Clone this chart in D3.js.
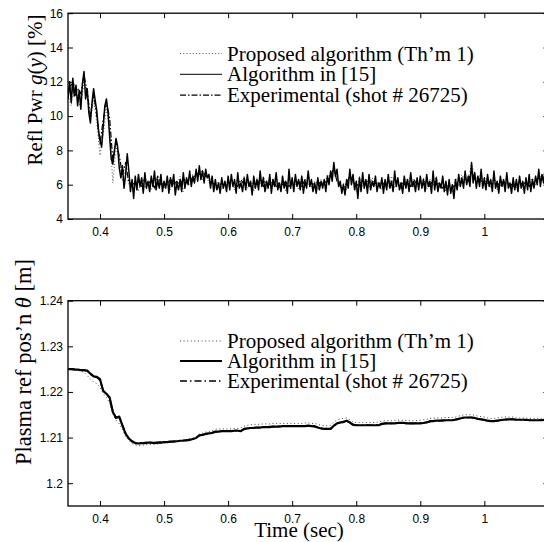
<!DOCTYPE html>
<html>
<head>
<meta charset="utf-8">
<script src="https://cdn.jsdelivr.net/npm/d3@7"></script>
<style>
  body { margin: 0; background: #fff; }
  svg { display: block; }
  .tick text { font-family: "Liberation Sans", Arial, sans-serif; font-size: 12px; fill: #000; }
  .lbl { font-family: "Liberation Serif", "Times New Roman", serif; font-size: 21px; fill: #000; }
</style>
</head>
<body>
<svg id="chart" width="544" height="542"></svg>
<script>
// x ticks shared by both panels
const timeTicks = [0.4, 0.5, 0.6, 0.7, 0.8, 0.9, 1.0];
const pwrTicks = [4, 6, 8, 10, 12, 14, 16];
const posTicks = [1.2, 1.21, 1.22, 1.23, 1.24];
const legendNames = ["Proposed algorithm (Th\u2019m 1)", "Algorithm in [15]", "Experimental (shot # 26725)"];

// reflected power, algorithm in [15], sampled every 2.5 ms from 0.35 s
const pwrAlgo15 = [
  11.0, 12.0, 10.8, 12.2, 11.2, 11.8, 10.6, 11.5, 10.4, 11.9, 12.6, 11.0, 11.6, 10.2, 9.6, 10.8, 11.6, 10.9, 10.3, 9.2,
  8.6, 8.2, 9.4, 10.6, 11.0, 10.2, 8.8, 7.5, 7.2, 8.0, 8.7, 8.2, 7.0, 6.4, 7.1, 5.8, 6.6, 7.8, 6.8, 5.6,
  6.3, 5.2, 6.5, 5.7, 6.6, 5.9, 6.4, 5.5, 6.7, 5.8, 6.2, 5.6, 6.5, 5.9, 6.8, 5.7, 6.3, 5.8, 6.6, 5.6,
  6.2, 5.8, 6.5, 5.5, 6.4, 5.9, 6.6, 5.4, 6.1, 5.7, 6.3, 5.6, 6.7, 5.8, 6.4, 6.0, 6.8, 5.9, 6.5, 6.1,
  6.9, 6.2, 7.1, 6.3, 6.8, 6.1, 6.9, 6.4, 6.6, 5.8, 6.5, 5.6, 6.3, 5.7, 6.1, 5.5, 6.4, 5.8, 6.2, 5.6,
  6.5, 5.7, 6.6, 5.9, 6.3, 5.5, 6.7, 5.8, 6.1, 5.6, 6.4, 5.7, 6.6, 5.9, 6.2, 5.4, 6.5, 5.8, 6.3, 5.7,
  6.8, 5.9, 6.4, 5.6, 6.2, 5.8, 6.6, 5.5, 6.3, 5.9, 6.7, 5.7, 6.1, 5.6, 6.5, 5.8, 6.2, 5.5, 6.9, 5.8,
  6.4, 5.6, 6.6, 5.9, 6.3, 5.7, 6.5, 5.5, 6.2, 5.8, 6.8, 5.9, 6.3, 5.6, 6.1, 5.5, 6.4, 5.7, 6.2, 5.8,
  6.3, 5.6, 6.5, 6.0, 6.8, 6.2, 7.3, 6.5, 6.9, 5.9, 6.2, 5.5, 6.0, 5.4, 6.3, 5.8, 6.9, 6.0, 6.6, 5.7,
  6.2, 5.2, 6.4, 5.6, 6.7, 5.8, 6.3, 5.5, 6.6, 5.7, 6.2, 5.9, 6.5, 5.6, 6.1, 5.8, 6.4, 5.5, 6.3, 5.7,
  6.6, 5.8, 6.2, 5.6, 6.8, 5.9, 6.4, 5.7, 6.1, 5.5, 6.5, 5.8, 6.3, 5.6, 6.7, 5.9, 6.2, 5.6, 6.4, 5.7,
  6.5, 5.8, 6.3, 5.6, 6.6, 5.9, 6.2, 5.5, 6.8, 5.7, 6.4, 5.6, 6.1, 5.8, 6.5, 5.6, 6.2, 5.4, 6.3, 5.5,
  6.0, 5.2, 6.3, 5.7, 6.6, 5.9, 6.4, 5.8, 6.8, 6.0, 6.5, 5.9, 7.3, 6.1, 6.7, 5.8, 6.5, 5.9, 6.9, 5.8,
  6.4, 5.7, 6.6, 5.9, 6.3, 5.6, 6.8, 5.8, 6.2, 5.5, 6.5, 5.9, 6.3, 5.6, 6.7, 5.8, 6.1, 5.5, 6.4, 5.7,
  6.3, 5.6, 6.5, 5.8, 6.2, 5.5, 6.4, 5.7, 6.6, 5.6, 6.3, 5.8, 6.5, 6.0, 6.9, 5.9, 6.6, 6.1, 7.0, 6.2,
  6.4
];
// reflected power, proposed and experimental, every 5 ms from 0.35 s
const pwrProposed = [
  11.2, 10.6, 11.9, 11.0, 10.5, 12.0, 11.2, 9.8, 11.0, 9.6,
  7.7, 8.9, 10.4, 9.2, 6.1, 8.2, 7.6, 6.2, 7.0, 6.0,
  5.9, 6.3, 5.6, 6.4, 5.8, 6.1, 5.7, 6.5, 5.9, 6.2,
  5.8, 6.4, 5.7, 6.2, 5.9, 6.5, 5.6, 6.3, 6.0, 6.6,
  6.5, 6.9, 6.3, 6.7, 6.1, 6.3, 5.8, 6.2, 5.7, 6.1,
  5.9, 6.4, 5.7, 6.3, 6.0, 6.5, 5.8, 6.2, 5.6, 6.4,
  6.0, 6.5, 5.7, 6.3, 5.9, 6.6, 5.8, 6.2, 5.6, 6.5,
  5.9, 6.3, 5.7, 6.4, 6.0, 6.6, 5.8, 6.2, 5.7, 6.3,
  5.9, 6.6, 6.4, 7.1, 6.3, 5.8, 6.1, 5.7, 6.7, 6.1,
  5.6, 6.5, 5.9, 6.3, 5.8, 6.4, 5.9, 6.2, 5.7, 6.3,
  5.9, 6.5, 5.8, 6.3, 5.7, 6.4, 6.0, 6.6, 5.8, 6.2,
  6.0, 6.4, 5.7, 6.3, 5.9, 6.5, 5.8, 6.2, 5.6, 6.1,
  5.6, 6.4, 5.9, 6.6, 6.1, 6.4, 7.2, 6.6, 6.2, 6.7,
  5.9, 6.5, 5.8, 6.6, 5.7, 6.4, 5.9, 6.5, 5.8, 6.2,
  5.8, 6.4, 5.7, 6.3, 5.9, 6.4, 6.0, 6.7, 6.2, 6.8,
  6.3
];
const pwrExperimental = [
  11.5, 11.9, 11.1, 11.6, 11.3, 12.4, 11.4, 10.0, 11.3, 10.0,
  8.4, 9.8, 10.8, 9.9, 7.4, 8.5, 7.7, 6.6, 7.3, 6.1,
  6.1, 6.0, 6.2, 5.9, 6.4, 6.0, 6.3, 5.8, 6.5, 6.0,
  6.1, 6.0, 6.3, 6.0, 6.2, 5.9, 6.4, 6.1, 6.5, 6.2,
  6.7, 6.6, 6.8, 6.5, 6.4, 6.1, 6.0, 5.9, 6.1, 5.9,
  6.2, 6.0, 6.1, 5.9, 6.3, 6.0, 6.2, 5.9, 6.1, 6.0,
  6.3, 5.9, 6.2, 6.0, 6.3, 5.9, 6.1, 6.0, 6.2, 5.9,
  6.1, 6.0, 6.2, 5.9, 6.3, 6.0, 6.1, 5.9, 6.2, 6.0,
  6.1, 6.2, 6.6, 6.9, 6.2, 5.9, 5.8, 6.1, 6.5, 6.2,
  5.9, 6.1, 6.2, 6.0, 6.3, 5.9, 6.1, 6.0, 6.2, 5.9,
  6.2, 6.0, 6.3, 5.9, 6.1, 6.0, 6.2, 5.9, 6.3, 6.0,
  6.1, 6.0, 6.2, 5.9, 6.3, 6.0, 6.1, 5.8, 6.0, 5.9,
  5.8, 6.0, 6.2, 6.1, 6.3, 6.2, 6.8, 6.3, 6.4, 6.2,
  6.0, 6.1, 6.2, 6.0, 6.1, 5.9, 6.2, 6.0, 6.1, 5.9,
  6.0, 6.1, 6.0, 6.2, 5.9, 6.1, 6.2, 6.4, 6.3, 6.5,
  6.3
];

// plasma position, every 5 ms from 0.35 s
const posProposed = [
  1.2250, 1.2250, 1.2249, 1.2248, 1.2246, 1.2243, 1.2236, 1.2228, 1.2222, 1.2218,
  1.2210, 1.2196, 1.2188, 1.2176, 1.2152, 1.2138, 1.2130, 1.2118, 1.2102, 1.2094,
  1.2087, 1.2084, 1.2082, 1.2083, 1.2084, 1.2085, 1.2085, 1.2086, 1.2086, 1.2087,
  1.2088, 1.2089, 1.2090, 1.2091, 1.2092, 1.2093, 1.2094, 1.2095, 1.2097, 1.2099,
  1.2102, 1.2108, 1.2110, 1.2112, 1.2113, 1.2115, 1.2118, 1.2119, 1.2119, 1.2119,
  1.2119, 1.2119, 1.2120, 1.2120, 1.2121, 1.2125, 1.2127, 1.2128, 1.2129, 1.2129,
  1.2129, 1.2130, 1.2130, 1.2130, 1.2131, 1.2131, 1.2131, 1.2131, 1.2131, 1.2131,
  1.2131, 1.2131, 1.2131, 1.2131, 1.2132, 1.2132, 1.2131, 1.2131, 1.2129, 1.2127,
  1.2126, 1.2126, 1.2127, 1.2134, 1.2138, 1.2141, 1.2142, 1.2143, 1.2139, 1.2134,
  1.2133, 1.2133, 1.2133, 1.2133, 1.2133, 1.2133, 1.2133, 1.2134, 1.2136, 1.2137,
  1.2137, 1.2137, 1.2138, 1.2138, 1.2138, 1.2138, 1.2137, 1.2137, 1.2137, 1.2137,
  1.2138, 1.2139, 1.2140, 1.2142, 1.2142, 1.2143, 1.2143, 1.2143, 1.2144, 1.2144,
  1.2144, 1.2145, 1.2147, 1.2149, 1.2150, 1.2150, 1.2150, 1.2149, 1.2147, 1.2146,
  1.2145, 1.2143, 1.2142, 1.2142, 1.2143, 1.2144, 1.2145, 1.2145, 1.2145, 1.2145,
  1.2143, 1.2143, 1.2143, 1.2143, 1.2142, 1.2142, 1.2142, 1.2142, 1.2141, 1.2141,
  1.2141
];
const posAlgo15 = [
  1.2250, 1.2250, 1.2249, 1.2249, 1.2248, 1.2248, 1.2247, 1.2240, 1.2234, 1.2233,
  1.2228, 1.2202, 1.2196, 1.2188, 1.2156, 1.2143, 1.2146, 1.2126, 1.2108, 1.2098,
  1.2092, 1.2088, 1.2087, 1.2088, 1.2088, 1.2089, 1.2089, 1.2088, 1.2089, 1.2089,
  1.2090, 1.2090, 1.2091, 1.2091, 1.2092, 1.2093, 1.2093, 1.2094, 1.2095, 1.2097,
  1.2099, 1.2105, 1.2106, 1.2108, 1.2109, 1.2110, 1.2113, 1.2113, 1.2114, 1.2114,
  1.2114, 1.2114, 1.2115, 1.2115, 1.2114, 1.2119, 1.2120, 1.2121, 1.2121, 1.2122,
  1.2122, 1.2123, 1.2123, 1.2123, 1.2124, 1.2124, 1.2124, 1.2125, 1.2125, 1.2125,
  1.2125, 1.2125, 1.2125, 1.2125, 1.2125, 1.2126, 1.2125, 1.2125, 1.2122, 1.2120,
  1.2119, 1.2119, 1.2119, 1.2126, 1.2131, 1.2133, 1.2134, 1.2137, 1.2133, 1.2128,
  1.2127, 1.2127, 1.2127, 1.2127, 1.2127, 1.2127, 1.2127, 1.2127, 1.2130, 1.2131,
  1.2131, 1.2131, 1.2131, 1.2132, 1.2132, 1.2132, 1.2131, 1.2131, 1.2131, 1.2131,
  1.2131, 1.2132, 1.2133, 1.2136, 1.2136, 1.2137, 1.2137, 1.2137, 1.2138, 1.2138,
  1.2138, 1.2139, 1.2141, 1.2143, 1.2144, 1.2144, 1.2144, 1.2143, 1.2141, 1.2140,
  1.2139, 1.2137, 1.2136, 1.2136, 1.2137, 1.2138, 1.2139, 1.2140, 1.2140, 1.2140,
  1.2139, 1.2139, 1.2139, 1.2139, 1.2138, 1.2138, 1.2138, 1.2138, 1.2138, 1.2139,
  1.2139
];
const posExperimental = [
  1.2250, 1.2250, 1.2250, 1.2249, 1.2248, 1.2247, 1.2246, 1.2239, 1.2234, 1.2232,
  1.2226, 1.2203, 1.2195, 1.2186, 1.2157, 1.2144, 1.2145, 1.2127, 1.2109, 1.2098,
  1.2091, 1.2088, 1.2088, 1.2088, 1.2089, 1.2089, 1.2089, 1.2089, 1.2089, 1.2090,
  1.2090, 1.2091, 1.2091, 1.2092, 1.2092, 1.2093, 1.2094, 1.2094, 1.2096, 1.2097,
  1.2100, 1.2104, 1.2106, 1.2108, 1.2109, 1.2111, 1.2112, 1.2113, 1.2114, 1.2114,
  1.2114, 1.2115, 1.2115, 1.2115, 1.2115, 1.2118, 1.2120, 1.2121, 1.2122, 1.2122,
  1.2122, 1.2123, 1.2123, 1.2124, 1.2124, 1.2124, 1.2125, 1.2125, 1.2125, 1.2125,
  1.2125, 1.2125, 1.2126, 1.2125, 1.2125, 1.2125, 1.2125, 1.2124, 1.2122, 1.2120,
  1.2120, 1.2119, 1.2120, 1.2125, 1.2130, 1.2133, 1.2135, 1.2136, 1.2133, 1.2129,
  1.2127, 1.2127, 1.2127, 1.2128, 1.2127, 1.2127, 1.2128, 1.2128, 1.2130, 1.2131,
  1.2131, 1.2131, 1.2132, 1.2132, 1.2132, 1.2131, 1.2131, 1.2131, 1.2131, 1.2132,
  1.2132, 1.2132, 1.2134, 1.2135, 1.2136, 1.2137, 1.2137, 1.2138, 1.2138, 1.2138,
  1.2138, 1.2140, 1.2141, 1.2143, 1.2143, 1.2144, 1.2144, 1.2142, 1.2141, 1.2140,
  1.2138, 1.2137, 1.2137, 1.2136, 1.2137, 1.2138, 1.2139, 1.2139, 1.2140, 1.2140,
  1.2139, 1.2139, 1.2139, 1.2138, 1.2138, 1.2138, 1.2138, 1.2139, 1.2138, 1.2139,
  1.2139
];

// sample times
const tFine = pwrAlgo15.map((_, i) => 0.35 + i * 0.0025);
const tCoarse = pwrProposed.map((_, i) => 0.35 + i * 0.005);

const svg = d3.select("#chart");
const left = 68, right = 548.4;

const x = d3.scaleLinear().domain([0.35, 1.1]).range([left, right]);

function panel(id, yDomain, yRange, ticks, fmt, series, legendX, legendY, rowGap, styleList) {
  const y = d3.scaleLinear().domain(yDomain).range(yRange);
  const g = svg.append("g");

  g.append("clipPath").attr("id", "clip" + id)
    .append("rect")
    .attr("x", left).attr("y", yRange[1])
    .attr("width", right - left).attr("height", yRange[0] - yRange[1]);

  const lines = g.append("g").attr("clip-path", `url(#clip${id})`);
  // proposed & experimental first, solid on top
  [0, 2, 1].forEach(k => {
    const s = series[k];
    const st = styleList[k];
    lines.append("path")
      .datum(s.values.map((v, i) => [s.t[i], v]))
      .attr("fill", "none")
      .attr("stroke", st.color)
      .attr("stroke-width", st.lineWidth || st.width)
      .attr("stroke-dasharray", st.dash)
      .attr("stroke-linejoin", "round")
      .attr("d", d3.line().x(d => x(d[0])).y(d => y(d[1])));
  });

  // inward ticks on all four sides
  g.append("g").attr("transform", `translate(0,${yRange[0]})`)
    .call(d3.axisBottom(x).tickValues(timeTicks).tickSizeInner(-5).tickSizeOuter(0)
      .tickPadding(8).tickFormat(d3.format("")))
    .call(a => a.select(".domain").remove());
  g.append("g").attr("transform", `translate(0,${yRange[1]})`)
    .call(d3.axisTop(x).tickValues(timeTicks).tickSizeInner(-5).tickSizeOuter(0).tickFormat(""))
    .call(a => a.select(".domain").remove());
  g.append("g").attr("transform", `translate(${left},0)`)
    .call(d3.axisLeft(y).tickValues(ticks).tickSizeInner(-5).tickSizeOuter(0)
      .tickPadding(5).tickFormat(fmt))
    .call(a => a.select(".domain").remove());
  g.append("g").attr("transform", `translate(${right},0)`)
    .call(d3.axisRight(y).tickValues(ticks).tickSizeInner(-5).tickSizeOuter(0).tickFormat(""))
    .call(a => a.select(".domain").remove());
  g.selectAll(".tick line").attr("stroke", "#000").attr("stroke-width", 1);

  g.append("rect")
    .attr("x", left).attr("y", yRange[1])
    .attr("width", right - left).attr("height", yRange[0] - yRange[1])
    .attr("fill", "none").attr("stroke", "#000").attr("stroke-width", 1.3);

  // legend
  legendNames.forEach((name, k) => {
    const st = styleList[k];
    const ly = legendY + k * rowGap;
    g.append("line")
      .attr("x1", legendX).attr("x2", legendX + 42)
      .attr("y1", ly).attr("y2", ly)
      .attr("stroke", st.color).attr("stroke-width", st.width)
      .attr("stroke-dasharray", st.dash);
    g.append("text").attr("class", "lbl")
      .attr("x", legendX + 47).attr("y", ly + 7)
      .text(name);
  });
  return y;
}

panel("top", [4, 16], [219, 13.2], pwrTicks, d3.format("d"),
  [
    { t: tCoarse, values: pwrProposed },
    { t: tFine, values: pwrAlgo15 },
    { t: tCoarse, values: pwrExperimental }
  ], 180, 53.5, 20.8,
  [
    { dash: "1,2.2", color: "#555", width: 1 },
    { dash: null, color: "#000", width: 1, lineWidth: 1.5 },
    { dash: "6,2,1.5,2", color: "#000", width: 1.2 }
  ]);

panel("bot", [1.195, 1.24], [506, 300.7], posTicks, d => d3.format("")(+d.toFixed(2)),
  [
    { t: tCoarse, values: posProposed },
    { t: tCoarse, values: posAlgo15 },
    { t: tCoarse, values: posExperimental }
  ], 180, 341, 20,
  [
    { dash: "1,2.6", color: "#444", width: 1 },
    { dash: null, color: "#000", width: 2.2 },
    { dash: "7,3,1.5,3", color: "#000", width: 1.6 }
  ]);

// axis titles
const t1 = svg.append("text").attr("class", "lbl")
  .attr("transform", "translate(42,90) rotate(-90)")
  .attr("text-anchor", "middle");
t1.append("tspan").text("Refl Pwr ");
t1.append("tspan").attr("font-style", "italic").text("g");
t1.append("tspan").text("(");
t1.append("tspan").attr("font-style", "italic").text("y");
t1.append("tspan").text(") [%]");

const t2 = svg.append("text").attr("class", "lbl")
  .attr("transform", "translate(31,362) rotate(-90)")
  .attr("text-anchor", "middle")
  .style("font-size", "22.5px");
t2.append("tspan").text("Plasma ref pos\u2019n ");
t2.append("tspan").attr("font-style", "italic").text("\u03b8");
t2.append("tspan").text(" [m]");

svg.append("text").attr("class", "lbl")
  .attr("x", 299).attr("y", 537)
  .attr("text-anchor", "middle")
  .text("Time (sec)");
</script>
</body>
</html>
